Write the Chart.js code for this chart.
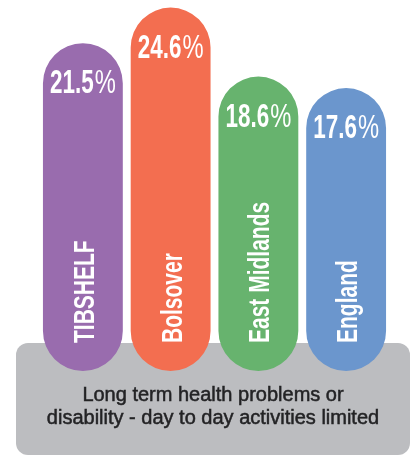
<!DOCTYPE html>
<html>
<head>
<meta charset="utf-8">
<script src="https://cdn.jsdelivr.net/npm/chart.js@4"></script>
<style>
  html, body { margin: 0; padding: 0; background: #fff; }
  #wrap { width: 411px; height: 456px; position: relative; }
</style>
</head>
<body>
<div id="wrap"><canvas id="chart"></canvas></div>
<script>
const areas = ['TIBSHELF', 'Bolsover', 'East Midlands', 'England'];
const percentLimited = [21.5, 24.6, 18.6, 17.6];
const barColours = ['#996cae', '#f36e50', '#67b36e', '#6b96cd'];
const caption = ['Long term health problems or', 'disability - day to day activities limited'];

// pills start below zero so there is room for the area names
const barBase = -7;

function squashedText(ctx, text, x, y, sx) {
  ctx.save();
  ctx.translate(x, y);
  ctx.scale(sx, 1);
  ctx.fillText(text, 0, 0);
  ctx.restore();
}

const panel = {
  id: 'panel',
  beforeDatasetsDraw(chart) {
    const ctx = chart.ctx;
    ctx.save();
    ctx.fillStyle = '#bcbdc0';
    ctx.beginPath();
    ctx.roundRect(16, 343, 394, 112, 12);
    ctx.fill();
    ctx.fillStyle = '#232325';
    ctx.strokeStyle = '#232325';
    ctx.lineWidth = 0.5;
    ctx.font = '20px "Liberation Sans"';
    ctx.textAlign = 'center';
    ctx.textBaseline = 'middle';
    caption.forEach((line, i) => {
      ctx.fillText(line, 213, 395 + i * 23);
      ctx.strokeText(line, 213, 395 + i * 23);
    });
    ctx.restore();
  }
};

const labels = {
  id: 'labels',
  afterDatasetsDraw(chart) {
    const ctx = chart.ctx;
    chart.getDatasetMeta(0).data.forEach((bar, i) => {
      ctx.save();
      ctx.fillStyle = '#fff';
      ctx.textBaseline = 'alphabetic';
      ctx.textAlign = 'left';

      // value: bold number + light percent sign
      const num = percentLimited[i].toFixed(1);
      ctx.font = 'bold 34px "Liberation Sans"';
      const wNum = ctx.measureText(num).width * 0.66;
      ctx.font = '33px "Liberation Sans"';
      const wPct = ctx.measureText('%').width * 0.72;
      const x = bar.x - (wNum + wPct + 1) / 2;
      const y = bar.y + 50;
      ctx.font = 'bold 34px "Liberation Sans"';
      squashedText(ctx, num, x, y, 0.66);
      ctx.font = '33px "Liberation Sans"';
      squashedText(ctx, '%', x + wNum + 1, y, 0.72);

      // area name, reading upwards
      ctx.translate(bar.x + 11, bar.base - 28);
      ctx.rotate(-Math.PI / 2);
      ctx.scale(0.7, 1);
      ctx.font = 'bold 30px "Liberation Sans"';
      ctx.fillText(areas[i], 0, 0);
      ctx.restore();
    });
  }
};

new Chart(document.getElementById('chart'), {
  type: 'bar',
  data: {
    labels: areas,
    datasets: [{
      data: percentLimited,
      backgroundColor: barColours,
      base: barBase,
      borderRadius: 40,
      borderSkipped: false,
      barPercentage: 0.91,
      categoryPercentage: 1
    }]
  },
  options: {
    responsive: true,
    maintainAspectRatio: false,
    animation: false,
    layout: { padding: { left: 39, right: 21, top: 0, bottom: 85 } },
    plugins: { legend: { display: false }, tooltip: { enabled: false } },
    scales: {
      x: { display: false },
      y: { display: false, min: -7, max: 25.26 }
    }
  },
  plugins: [panel, labels]
});
</script>
</body>
</html>
